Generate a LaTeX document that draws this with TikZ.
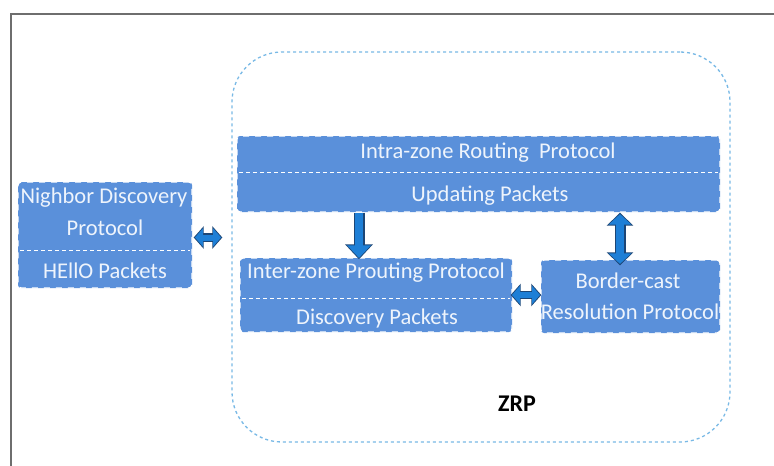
\documentclass[tikz,border=0pt]{standalone}
\usepackage{fontspec}
\setmainfont{Carlito}
\usetikzlibrary{arrows.meta,calc}
\definecolor{boxblue}{RGB}{90,144,218}
\definecolor{boxtext}{RGB}{238,244,252}
\definecolor{zonecol}{RGB}{120,185,230}
\definecolor{arrfill}{RGB}{30,127,214}
\definecolor{arrline}{RGB}{28,70,118}
\definecolor{framecol}{RGB}{110,110,110}
\tikzset{
  protobox/.style={rectangle, fill=boxblue, draw=white, line width=1.4pt,
    dash pattern=on 6pt off 6pt, rounded corners=3pt, inner sep=0pt},
  divider/.style={draw=white, line width=1pt, dash pattern=on 4pt off 3pt},
  boxlabel/.style={text=boxtext, font=\fontsize{22.5}{24}\selectfont, inner sep=0pt},
  zonebox/.style={rectangle, draw=zonecol, line width=1.3pt, dash pattern=on 3pt off 3pt,
    rounded corners=50pt, inner sep=0pt},
  % horizontal block arrows
  harrout/.style={draw=arrline, line width=8.5pt},
  harrin/.style={draw=arrfill, line width=6pt},
  hdtipout/.style={arrows={{Triangle[length=10pt,width=22pt]}-{Triangle[length=10pt,width=22pt]}}},
  hdtipin/.style={arrows={{Triangle[length=8pt,width=18pt]}-{Triangle[length=8pt,width=18pt]}}},
  % vertical block arrows
  varrout/.style={draw=arrline, line width=11pt},
  varrin/.style={draw=arrfill, line width=8.4pt},
  vtipout/.style={arrows={-{Triangle[length=15pt,width=27pt]}}},
  vtipin/.style={arrows={-{Triangle[length=12.5pt,width=23pt]}}},
  vdtipout/.style={arrows={{Triangle[length=13pt,width=26pt]}-{Triangle[length=13pt,width=26pt]}}},
  vdtipin/.style={arrows={{Triangle[length=10.5pt,width=22pt]}-{Triangle[length=10.5pt,width=22pt]}}},
}
\begin{document}
\begin{tikzpicture}[x=1pt,y=1pt]
\useasboundingbox (0,0) rectangle (774,-466);
\fill[white] (0,0) rectangle (774,-466);

% outer frame (top and left edges)
\draw[framecol, line width=1.6pt] (11,-466) -- (11,-14) -- (774,-14);

% ZRP container
\node[zonebox, minimum width=498pt, minimum height=390pt] (zrp) at (481,-247) {};
\node[font=\fontsize{24}{26}\selectfont\bfseries] (zrplabel) at (517,-404) {ZRP};

% neighbour discovery box
\node[protobox, minimum width=174pt, minimum height=106pt] (nd) at (105,-235) {};
\draw[divider] (20,-250) -- (190,-250);
\node[boxlabel] (nd1) at (104,-198) {Nighbor Discovery};
\node[boxlabel] (nd2) at (105,-228) {Protocol};
\node[boxlabel] (nd3) at (105,-271) {HEllO Packets};

% intra-zone routing box
\node[protobox, minimum width=483pt, minimum height=76pt] (iz) at (478.5,-174) {};
\draw[divider] (239,-172) -- (718,-172);
\node[boxlabel] (iz1) at (488,-153) {Intra-zone Routing\ \ Protocol};
\node[boxlabel] (iz2) at (490,-196) {Updating Packets};

% inter-zone routing box
\node[protobox, minimum width=272pt, minimum height=74pt] (ir) at (376,-295) {};
\draw[divider] (242,-298) -- (510,-298);
\node[boxlabel] (ir1) at (376,-273) {Inter-zone Prouting Protocol};
\node[boxlabel] (ir2) at (377,-318) {Discovery Packets};

% border-cast resolution box
\node[protobox, minimum width=179pt, minimum height=73pt] (bc) at (630.5,-296.5) {};
\node[boxlabel] (bc1) at (628,-281) {Border-cast};
\node[boxlabel] (bc2) at (630,-312) {Resolution Protocol};

% block arrows: dark outline pass, then blue fill pass
\draw[harrout, hdtipout, shorten <=1pt, shorten >=9pt]
  ([yshift=-2.5pt]nd.east) -- ([yshift=-2.5pt]nd.east -| zrp.west);
\draw[harrin, hdtipin, shorten <=2.3pt, shorten >=10.3pt]
  ([yshift=-2.5pt]nd.east) -- ([yshift=-2.5pt]nd.east -| zrp.west);

\draw[varrout, vtipout, shorten >=-2pt]
  ([xshift=-17pt]ir.north |- iz.south) -- ([xshift=-17pt]ir.north);
\draw[varrin, vtipin, shorten >=-0.6pt]
  ([xshift=-17pt]ir.north |- iz.south) -- ([xshift=-17pt]ir.north);

\draw[varrout, vdtipout, shorten <=0pt, shorten >=-6pt]
  ([xshift=-10.5pt]bc.north |- iz.south) -- ([xshift=-10.5pt]bc.north);
\draw[varrin, vdtipin, shorten <=1.4pt, shorten >=-4.6pt]
  ([xshift=-10.5pt]bc.north |- iz.south) -- ([xshift=-10.5pt]bc.north);

\draw[harrout, hdtipout, shorten <=-2pt, shorten >=-1pt]
  (ir.east) -- (ir.east -| bc.west);
\draw[harrin, hdtipin, shorten <=-0.7pt, shorten >=0.3pt]
  (ir.east) -- (ir.east -| bc.west);
\end{tikzpicture}
\end{document}
